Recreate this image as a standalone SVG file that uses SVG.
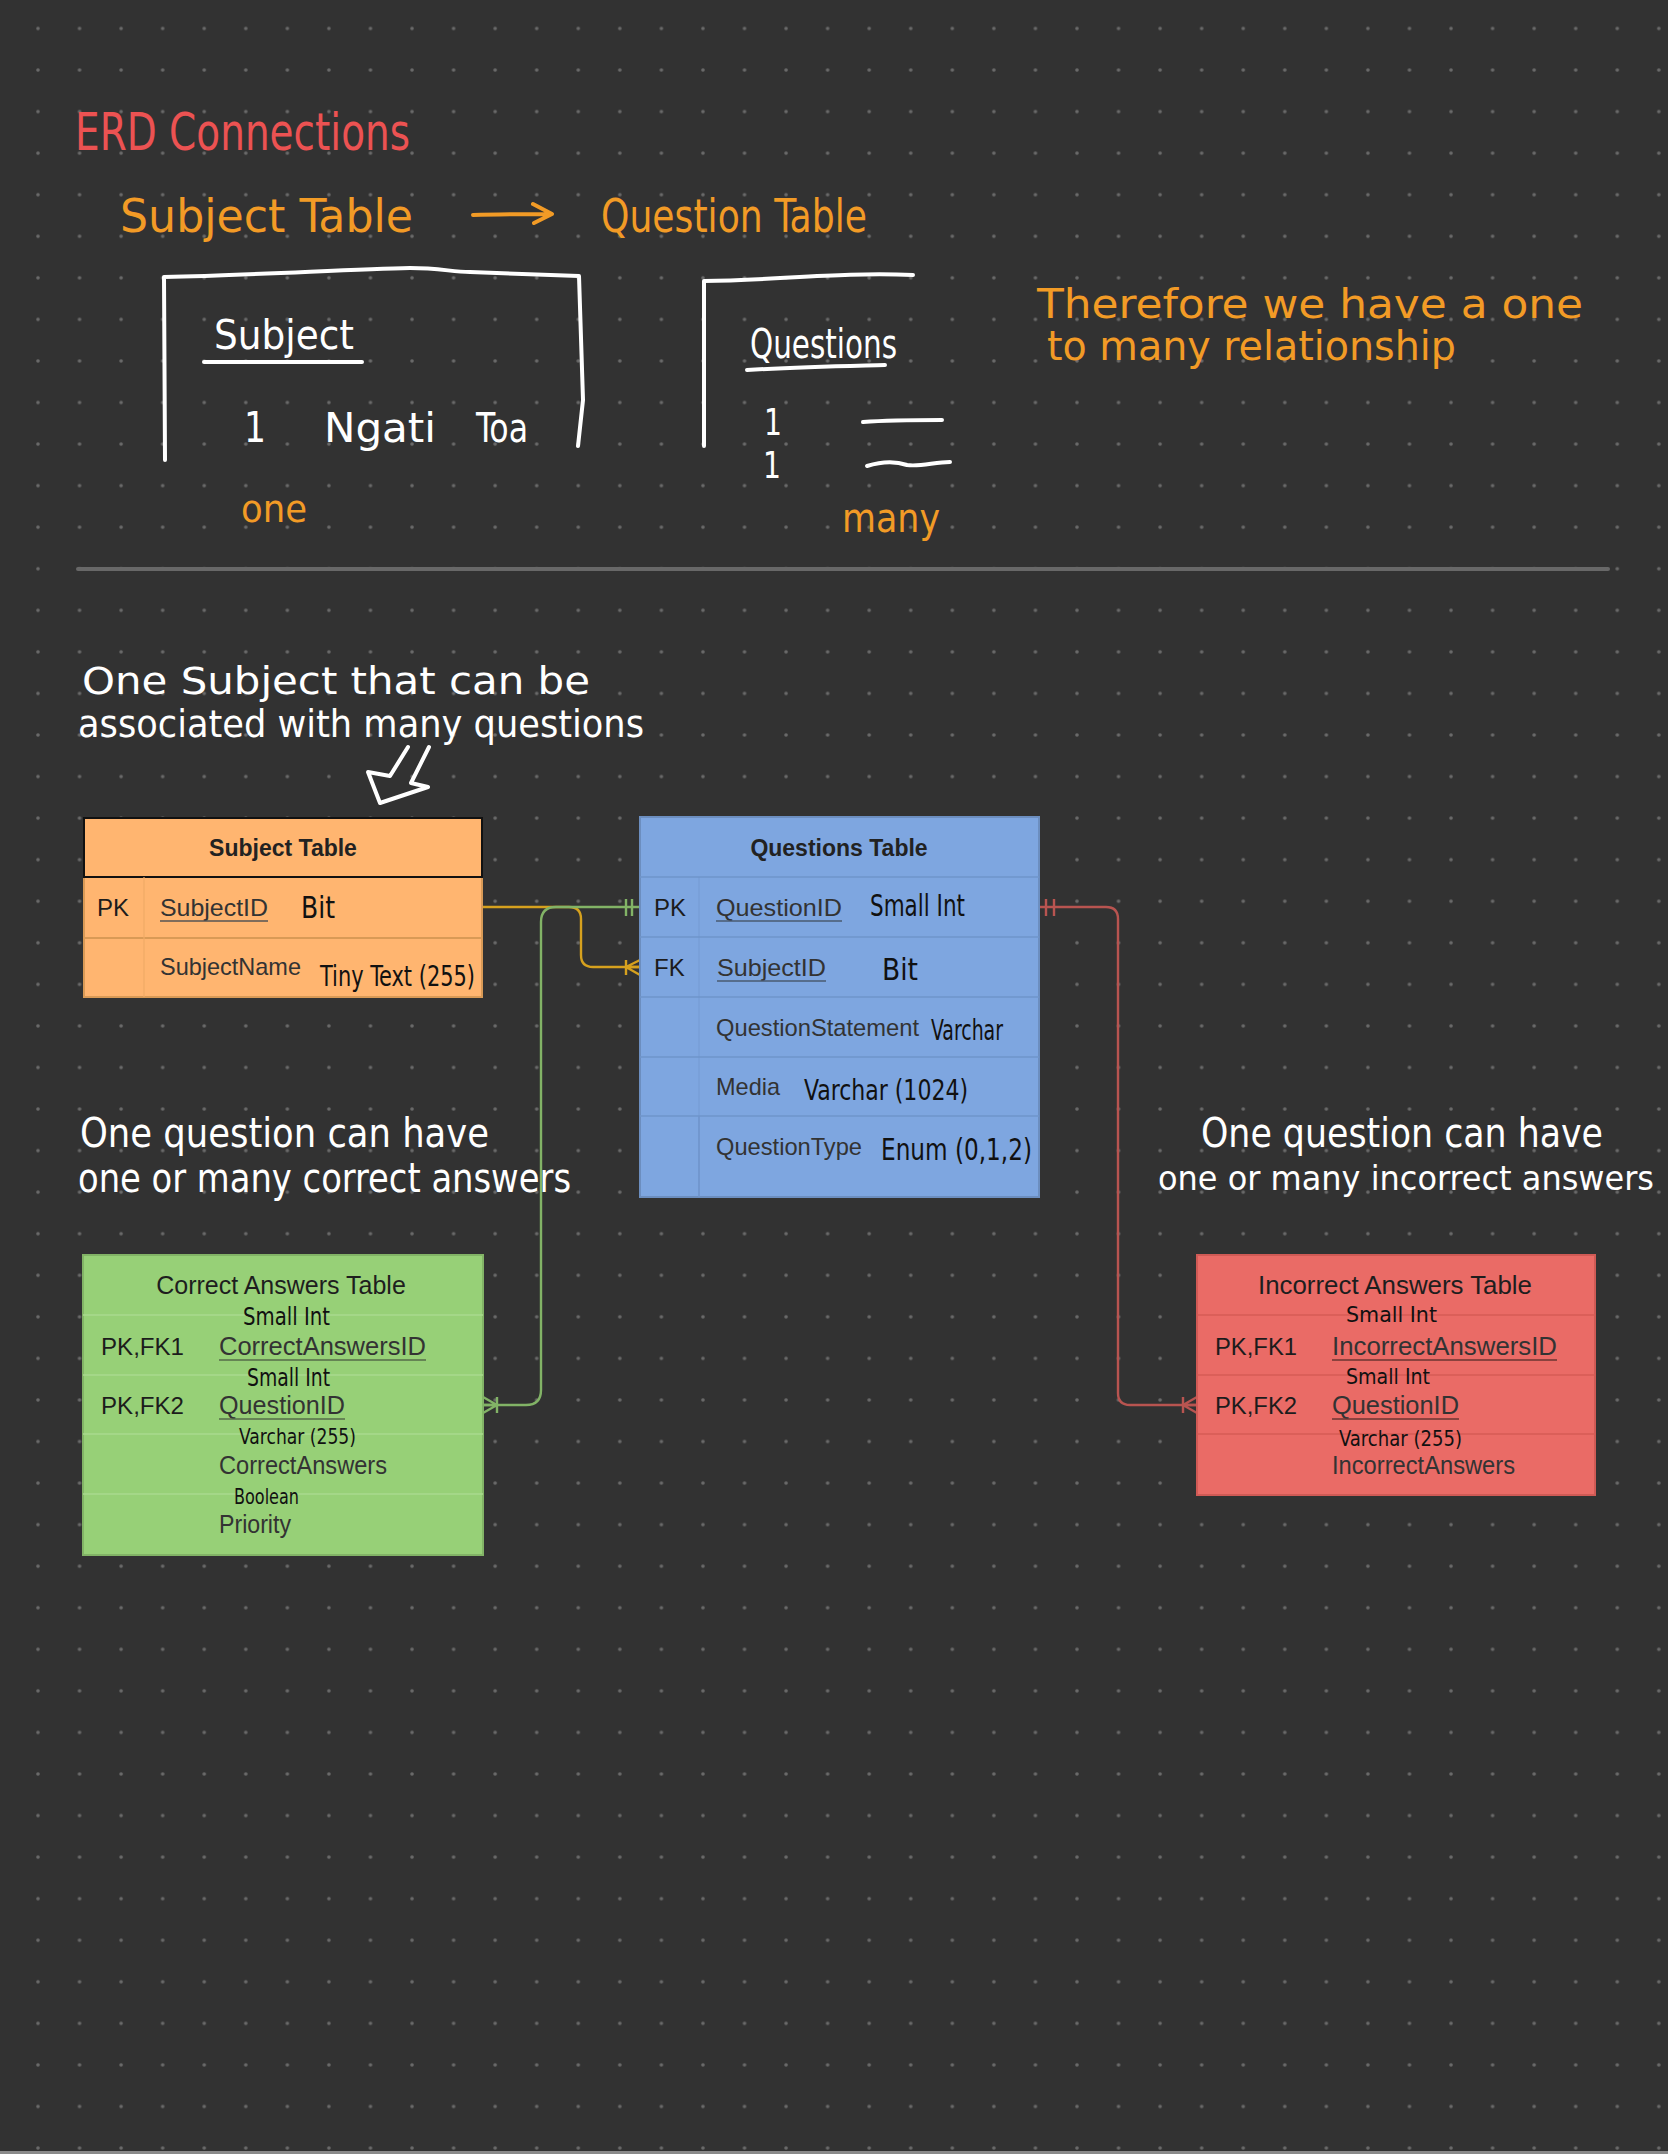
<svg xmlns="http://www.w3.org/2000/svg" width="1668" height="2154" viewBox="0 0 1668 2154">
<defs>
<pattern id="dots" x="17.2" y="7.7" width="41.56" height="41.56" patternUnits="userSpaceOnUse">
<circle cx="20.8" cy="20.8" r="1.8" fill="#6a6a6a"/>
</pattern>
<style>
.hw{font-family:"DejaVu Sans Condensed","DejaVu Sans",sans-serif;}
.w{fill:#ffffff}
.o{fill:#f29b26}
.r{fill:#ec5252}
.ink{fill:#111111;font-family:"DejaVu Sans Condensed","DejaVu Sans",sans-serif;}
.tb{font-family:"Liberation Sans",Arial,sans-serif;}
.hd{font-size:23px;font-weight:bold;fill:#222;text-anchor:middle}
.hd2{font-size:25px;fill:#1e1e1e;text-anchor:middle}
.key{font-size:24px;fill:#1c1c1c}
.fld{font-size:24px;fill:#333}
.fld2{font-size:25px;fill:#333}
.ul{stroke-width:1.6}
.sk{fill:none;stroke:#ffffff;stroke-width:4;stroke-linecap:round;stroke-linejoin:round}
.conn{fill:none;stroke-width:2.4;stroke-linejoin:round}
</style>
</defs>
<rect x="0" y="0" width="1668" height="2154" fill="#323232"/>
<rect x="0" y="0" width="1668" height="2154" fill="url(#dots)"/>
<rect x="0" y="2151" width="1668" height="3" fill="#8a8a8a"/>

<g id="title">
<text class="hw r" x="75" y="150" font-size="52" textLength="335" lengthAdjust="spacingAndGlyphs">ERD Connections</text>
<text class="hw o" x="120" y="232" font-size="46" textLength="293" lengthAdjust="spacingAndGlyphs">Subject Table</text>
<path d="M473,215 C500,214 525,214 551,214 M533,204 L552,214 L534,223" fill="none" stroke="#f29b26" stroke-width="4" stroke-linecap="round" stroke-linejoin="round"/>
<text class="hw o" x="601" y="232" font-size="46" textLength="266" lengthAdjust="spacingAndGlyphs">Question Table</text>
</g>

<g id="sketch-subject">
<path class="sk" d="M165,460 L164,277 C260,275 350,269 410,268 C440,268 452,272 470,272 L579,276 L583,400 L578,446"/>
<text class="hw w" x="214" y="349" font-size="40" textLength="140" lengthAdjust="spacingAndGlyphs">Subject</text>
<path class="sk" d="M204,362 L362,362"/>
<text class="hw w" x="244" y="442" font-size="42" textLength="22" lengthAdjust="spacingAndGlyphs">1</text>
<text class="hw w" x="324" y="442" font-size="40" textLength="112" lengthAdjust="spacingAndGlyphs">Ngati</text>
<text class="hw w" x="476" y="442" font-size="40" textLength="52" lengthAdjust="spacingAndGlyphs">Toa</text>
<text class="hw o" x="241" y="522" font-size="38" textLength="66" lengthAdjust="spacingAndGlyphs">one</text>
</g>

<g id="sketch-questions">
<path class="sk" d="M704,446 L704,281 C780,280 840,272 913,275"/>
<text class="hw w" x="750" y="358" font-size="40" textLength="147" lengthAdjust="spacingAndGlyphs">Questions</text>
<path class="sk" d="M747,370 C800,367 850,366 885,365"/>
<text class="hw w" x="764" y="435" font-size="38" textLength="18" lengthAdjust="spacingAndGlyphs">1</text>
<text class="hw w" x="763" y="478" font-size="38" textLength="18" lengthAdjust="spacingAndGlyphs">1</text>
<path class="sk" d="M863,422 C890,420 915,420 942,420"/>
<path class="sk" d="M867,466 C880,462 895,461 907,465 C920,467 935,462 950,462"/>
<text class="hw o" x="842" y="532" font-size="40" textLength="98" lengthAdjust="spacingAndGlyphs">many</text>
</g>

<g id="note-therefore">
<text class="hw o" x="1037" y="318" font-size="40" textLength="546" lengthAdjust="spacingAndGlyphs">Therefore we have a one</text>
<text class="hw o" x="1047" y="360" font-size="40" textLength="409" lengthAdjust="spacingAndGlyphs">to many relationship</text>
</g>

<line x1="78" y1="569" x2="1608" y2="569" stroke="#686868" stroke-width="4" stroke-linecap="round"/>

<g id="note-subject">
<text class="hw w" x="82" y="694" font-size="37" textLength="508" lengthAdjust="spacingAndGlyphs">One Subject that can be</text>
<text class="hw w" x="78" y="737" font-size="37" textLength="566" lengthAdjust="spacingAndGlyphs">associated with many questions</text>
<path class="sk" d="M408,747 L390,776 L368,772 L380,803 L428,787 L411,783 L429,747"/>
</g>

<g id="note-correct">
<text class="hw w" x="80" y="1147" font-size="40" textLength="409" lengthAdjust="spacingAndGlyphs">One question can have</text>
<text class="hw w" x="78" y="1192" font-size="40" textLength="493" lengthAdjust="spacingAndGlyphs">one or many correct answers</text>
</g>

<g id="note-incorrect">
<text class="hw w" x="1201" y="1147" font-size="40" textLength="402" lengthAdjust="spacingAndGlyphs">One question can have</text>
<text class="hw w" x="1158" y="1190" font-size="33" textLength="496" lengthAdjust="spacingAndGlyphs">one or many incorrect answers</text>
</g>

<g id="connectors">
<path class="conn" stroke="#d6a11e" d="M482,907 H569 Q581,907 581,919 V955 Q581,967 593,967 H640"/>
<path class="conn" stroke="#d6a11e" d="M626,960 V975 M626,967 L640,960 M626,967 L640,967 M626,967 L640,975"/>
<path class="conn" stroke="#82b366" d="M640,907 H556 Q541,907 541,922 V1390 Q541,1405 526,1405 H483"/>
<path class="conn" stroke="#82b366" d="M626,899 V916 M632,899 V916"/>
<path class="conn" stroke="#82b366" d="M497,1397 V1413 M497,1405 L483,1397 M497,1405 L483,1405 M497,1405 L483,1413"/>
<path class="conn" stroke="#b85450" d="M1039,907 H1106 Q1118,907 1118,919 V1393 Q1118,1405 1130,1405 H1197"/>
<path class="conn" stroke="#b85450" d="M1046,899 V916 M1054,899 V916"/>
<path class="conn" stroke="#b85450" d="M1183,1397 V1413 M1183,1405 L1197,1397 M1183,1405 L1197,1405 M1183,1405 L1197,1413"/>
</g>

<g id="subject-table" class="tb">
<rect x="84" y="877" width="398" height="120" fill="#ffb570" stroke="#d99a56" stroke-width="2"/>
<rect x="84" y="818" width="398" height="59" fill="#ffb570" stroke="#111" stroke-width="2"/>
<line x1="84" y1="938" x2="482" y2="938" stroke="#d99a56" stroke-width="2"/>
<line x1="144" y1="877" x2="144" y2="997" stroke="#f0ab66" stroke-width="1.2"/>
<text class="hd" x="283" y="856">Subject Table</text>
<text class="key" x="97" y="916">PK</text>
<text class="fld" x="160" y="916" textLength="108" lengthAdjust="spacingAndGlyphs">SubjectID</text>
<line class="ul" x1="160" y1="921" x2="268" y2="921" stroke="#555"/>
<text class="ink" x="301" y="918" font-size="30" textLength="34" lengthAdjust="spacingAndGlyphs">Bit</text>
<text class="fld" x="160" y="975" textLength="141" lengthAdjust="spacingAndGlyphs">SubjectName</text>
<text class="ink" x="320" y="986" font-size="28" textLength="155" lengthAdjust="spacingAndGlyphs">Tiny Text (255)</text>
</g>

<g id="questions-table" class="tb">
<rect x="640" y="817" width="399" height="380" fill="#7ea6e0" stroke="#6c8ebf" stroke-width="2"/>
<g stroke="#6f94cb" stroke-width="1.6">
<line x1="640" y1="877" x2="1039" y2="877"/>
<line x1="640" y1="937" x2="1039" y2="937"/>
<line x1="640" y1="997" x2="1039" y2="997"/>
<line x1="640" y1="1057" x2="1039" y2="1057"/>
<line x1="640" y1="1116" x2="1039" y2="1116"/>
<line x1="699" y1="877" x2="699" y2="1116" stroke-opacity="0.4"/>
<line x1="699" y1="1116" x2="699" y2="1197"/>
</g>
<text class="hd" x="839" y="856" font-weight="bold">Questions Table</text>
<text class="key" x="654" y="916">PK</text>
<text class="fld" x="716" y="916" textLength="126" lengthAdjust="spacingAndGlyphs">QuestionID</text>
<line class="ul" x1="716" y1="921" x2="842" y2="921" stroke="#4a5a70"/>
<text class="ink" x="870" y="916" font-size="30" textLength="95" lengthAdjust="spacingAndGlyphs">Small Int</text>
<text class="key" x="654" y="976">FK</text>
<text class="fld" x="717" y="976" textLength="109" lengthAdjust="spacingAndGlyphs">SubjectID</text>
<line class="ul" x1="717" y1="981" x2="826" y2="981" stroke="#4a5a70"/>
<text class="ink" x="882" y="980" font-size="30" textLength="36" lengthAdjust="spacingAndGlyphs">Bit</text>
<text class="fld" x="716" y="1036" textLength="203" lengthAdjust="spacingAndGlyphs">QuestionStatement</text>
<text class="ink" x="931" y="1040" font-size="28" textLength="72" lengthAdjust="spacingAndGlyphs">Varchar</text>
<text class="fld" x="716" y="1095" textLength="64" lengthAdjust="spacingAndGlyphs">Media</text>
<text class="ink" x="804" y="1100" font-size="28" textLength="164" lengthAdjust="spacingAndGlyphs">Varchar (1024)</text>
<text class="fld" x="716" y="1155" textLength="146" lengthAdjust="spacingAndGlyphs">QuestionType</text>
<text class="ink" x="881" y="1160" font-size="30" textLength="151" lengthAdjust="spacingAndGlyphs">Enum (0,1,2)</text>
</g>

<g id="correct-answers-table" class="tb">
<rect x="83" y="1255" width="400" height="300" fill="#97d077" stroke="#82b366" stroke-width="2"/>
<g stroke="#a9da8e" stroke-width="1.6">
<line x1="83" y1="1315" x2="483" y2="1315"/>
<line x1="83" y1="1375" x2="483" y2="1375"/>
<line x1="83" y1="1434" x2="483" y2="1434"/>
<line x1="83" y1="1494" x2="483" y2="1494"/>
</g>
<text class="hd2" x="281" y="1294">Correct Answers Table</text>
<text class="ink" x="243" y="1325" font-size="24" textLength="87" lengthAdjust="spacingAndGlyphs">Small Int</text>
<text class="key" x="101" y="1355" font-size="25" textLength="83" lengthAdjust="spacingAndGlyphs">PK,FK1</text>
<text class="fld2" x="219" y="1355" textLength="207" lengthAdjust="spacingAndGlyphs">CorrectAnswersID</text>
<line class="ul" x1="219" y1="1360" x2="426" y2="1360" stroke="#556b48"/>
<text class="ink" x="247" y="1386" font-size="24" textLength="83" lengthAdjust="spacingAndGlyphs">Small Int</text>
<text class="key" x="101" y="1414" font-size="25" textLength="83" lengthAdjust="spacingAndGlyphs">PK,FK2</text>
<text class="fld2" x="219" y="1414" textLength="126" lengthAdjust="spacingAndGlyphs">QuestionID</text>
<line class="ul" x1="219" y1="1419" x2="345" y2="1419" stroke="#556b48"/>
<text class="ink" x="239" y="1444" font-size="22" textLength="117" lengthAdjust="spacingAndGlyphs">Varchar (255)</text>
<text class="fld2" x="219" y="1474" textLength="168" lengthAdjust="spacingAndGlyphs">CorrectAnswers</text>
<text class="ink" x="234" y="1504" font-size="22" textLength="65" lengthAdjust="spacingAndGlyphs">Boolean</text>
<text class="fld2" x="219" y="1533" textLength="72" lengthAdjust="spacingAndGlyphs">Priority</text>
</g>

<g id="incorrect-answers-table" class="tb">
<rect x="1197" y="1255" width="398" height="240" fill="#ea6b66" stroke="#d05a55" stroke-width="2"/>
<g stroke="#d65b56" stroke-width="1.6">
<line x1="1197" y1="1315" x2="1595" y2="1315"/>
<line x1="1197" y1="1375" x2="1595" y2="1375"/>
<line x1="1197" y1="1434" x2="1595" y2="1434"/>
</g>
<text class="hd2" x="1395" y="1294" textLength="274" lengthAdjust="spacingAndGlyphs">Incorrect Answers Table</text>
<text class="ink" x="1346" y="1322" font-size="22" textLength="91" lengthAdjust="spacingAndGlyphs">Small Int</text>
<text class="key" x="1215" y="1355" font-size="25" textLength="82" lengthAdjust="spacingAndGlyphs">PK,FK1</text>
<text class="fld2" x="1332" y="1355" textLength="225" lengthAdjust="spacingAndGlyphs">IncorrectAnswersID</text>
<line class="ul" x1="1332" y1="1360" x2="1557" y2="1360" stroke="#6a3432"/>
<text class="ink" x="1346" y="1384" font-size="22" textLength="84" lengthAdjust="spacingAndGlyphs">Small Int</text>
<text class="key" x="1215" y="1414" font-size="25" textLength="82" lengthAdjust="spacingAndGlyphs">PK,FK2</text>
<text class="fld2" x="1332" y="1414" textLength="127" lengthAdjust="spacingAndGlyphs">QuestionID</text>
<line class="ul" x1="1332" y1="1419" x2="1459" y2="1419" stroke="#6a3432"/>
<text class="ink" x="1339" y="1446" font-size="22" textLength="123" lengthAdjust="spacingAndGlyphs">Varchar (255)</text>
<text class="fld2" x="1332" y="1474" textLength="183" lengthAdjust="spacingAndGlyphs">IncorrectAnswers</text>
</g>
</svg>
